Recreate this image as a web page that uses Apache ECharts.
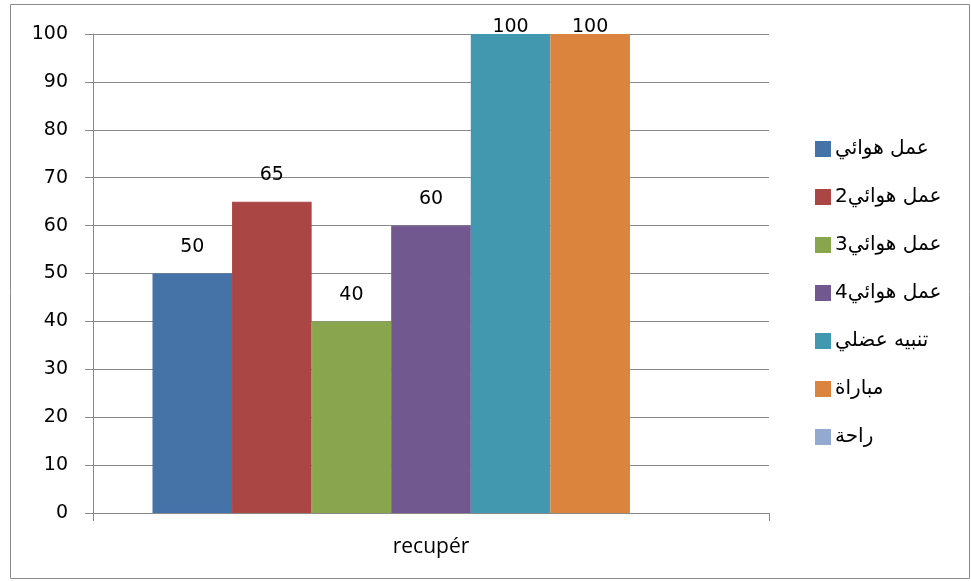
<!DOCTYPE html>
<html>
<head>
<meta charset="utf-8">
<script src="https://cdn.jsdelivr.net/npm/echarts@6/dist/echarts.min.js"></script>
<style>
  html, body { margin: 0; padding: 0; background: #fff; }
  #chart { width: 971px; height: 581px; }
</style>
</head>
<body>
<div id="chart"></div>
<script>
// Category and series data
var categories = ['recupér'];
var seriesNames = ['عمل هوائي', 'عمل هوائي2', 'عمل هوائي3', 'عمل هوائي4', 'تنبيه عضلي', 'مباراة', 'راحة'];
var seriesValues = [50, 65, 40, 60, 100, 100, null];
var seriesColors = ['#4572A7', '#AA4643', '#89A54E', '#71588F', '#4198AF', '#DB843D', '#93A9CF'];
var yTicks = { min: 0, max: 100, interval: 10 };

var axisGray = '#898989';
var numFont = 'DejaVu Sans';

var series = seriesNames.map(function (name, i) {
  var v = seriesValues[i];
  // labels on full-height bars overlap the bar top slightly
  var item = { value: v };
  if (v !== null && v >= yTicks.max) {
    item.label = { distance: -3 };
  }
  return {
    name: name,
    type: 'bar',
    barGap: '0%',
    barCategoryGap: '17.6%',
    // a same-colour outline closes the anti-aliased seams between adjacent bars
    itemStyle: { color: seriesColors[i], borderColor: seriesColors[i], borderWidth: 1.2 },
    label: {
      show: v !== null,
      position: 'top',
      distance: 17,
      color: '#000',
      fontFamily: numFont,
      fontSize: 19
    },
    data: [item]
  };
});

var chart = echarts.init(document.getElementById('chart'), null, { renderer: 'canvas' });
chart.setOption({
  animation: false,
  backgroundColor: '#fff',
  graphic: [{
    type: 'rect',
    shape: { x: 10.5, y: 4.5, width: 959, height: 574 },
    style: { fill: 'none', stroke: '#8a8a8a', lineWidth: 1 },
    silent: true,
    z: -1
  }],
  grid: { left: 93, top: 34, right: 202, bottom: 68, containLabel: false },
  legend: {
    orient: 'vertical',
    left: 810,
    top: 134,
    icon: 'rect',
    itemWidth: 14,
    itemHeight: 14,
    itemGap: 28,
    selectedMode: false,
    textStyle: {
      fontFamily: 'DejaVu Sans',
      fontSize: 20,
      color: '#000',
      lineHeight: 20
    },
    data: seriesNames
  },
  xAxis: {
    type: 'category',
    data: categories,
    axisLine: { show: true, lineStyle: { color: axisGray, width: 1 } },
    axisTick: { show: true, length: 8, lineStyle: { color: axisGray } },
    axisLabel: { margin: 24, color: '#000', fontFamily: 'Open Sans', fontSize: 21 },
    splitLine: { show: false }
  },
  yAxis: {
    type: 'value',
    min: yTicks.min,
    max: yTicks.max,
    interval: yTicks.interval,
    axisLine: { show: true, lineStyle: { color: axisGray, width: 1 } },
    axisTick: { show: true, length: 8, lineStyle: { color: axisGray } },
    axisLabel: { margin: 25, color: '#000', fontFamily: numFont, fontSize: 19 },
    splitLine: { show: true, lineStyle: { color: axisGray, width: 1 } }
  },
  series: series
});
</script>
</body>
</html>
